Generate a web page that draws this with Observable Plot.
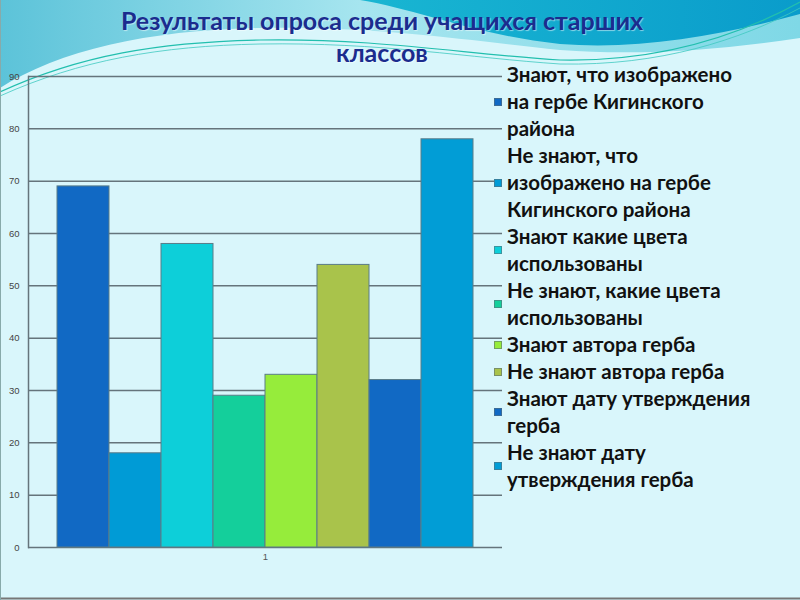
<!DOCTYPE html>
<html>
<head>
<meta charset="utf-8">
<script src="https://cdn.jsdelivr.net/npm/d3@7"></script>
<script src="https://cdn.jsdelivr.net/npm/@observablehq/plot@0.6"></script>
<style>
  html, body { margin: 0; padding: 0; }
  body { width: 800px; height: 600px; position: relative; overflow: hidden; background: #d9f6fb; }
  #bg { position: absolute; left: 0; top: 0; }
  #title { position: absolute; left: 0; top: 4px; width: 764px; text-align: center;
           font-family: Lato, "Open Sans", sans-serif; font-weight: 700; font-size: 25px;
           line-height: 32px; color: #1b2c8e; text-shadow: 1px 1px 1px rgba(255,255,255,0.5); }
  #chart { position: absolute; left: 0; top: 0; }
  #legend { position: absolute; left: 494px; top: 61px; width: 306px;
            font-family: Lato, "Open Sans", sans-serif; font-weight: 700; font-size: 20.5px;
            line-height: 27px; color: #111; }
  .item { display: flex; align-items: center; }
  .sw { width: 6px; height: 6px; border: 1px solid rgba(90,110,120,0.6); margin-right: 5px; flex: none; }
  .lbl { white-space: pre; }
</style>
</head>
<body>
<svg id="bg" width="800" height="600">
  <defs>
    <linearGradient id="g1" x1="0" x2="1" y1="0" y2="0">
      <stop offset="0" stop-color="#5cc3d9"/>
      <stop offset="0.45" stop-color="#a6e5ef"/>
      <stop offset="1" stop-color="#7fd8e6"/>
    </linearGradient>
    <linearGradient id="g2" x1="0" x2="1" y1="0" y2="0">
      <stop offset="0" stop-color="#19b6d2"/>
      <stop offset="1" stop-color="#0a9ccb"/>
    </linearGradient>
  </defs>
  <path d="M0,0 H800 V38 C720,50 640,56 560,50 C480,42 380,26 260,28 C150,30 60,50 0,88 Z" fill="url(#g1)"/>
  <path d="M360,0 C420,10 480,36 560,44 C640,50 720,36 800,14 V0 Z" fill="url(#g2)"/>
  <path d="M0,92 C80,55 160,42 260,40 C380,38 470,55 560,60 C660,62 740,35 800,2" fill="none" stroke="#22bfae" stroke-width="1.2"/>
  <path d="M0,96 C80,60 160,46 260,44 C380,42 470,58 560,64 C660,66 740,40 800,8" fill="none" stroke="#3fc9c0" stroke-width="0.8"/>
  <line x1="0" y1="598.5" x2="800" y2="598.5" stroke="#777" stroke-width="2"/>
  <line x1="0.5" y1="0" x2="0.5" y2="600" stroke="#8aa" stroke-width="1"/>
</svg>
<div id="title">Результаты опроса среди учащихся старших<br>классов</div>
<div id="chart"></div>
<div id="legend"></div>
<script>
const category = "1";
const seriesNames = [
  "Знают, что изображено\nна гербе Кигинского\nрайона",
  "Не знают, что\nизображено на гербе\nКигинского района",
  "Знают какие цвета\nиспользованы",
  "Не знают, какие цвета\nиспользованы",
  "Знают автора герба",
  "Не знают автора герба",
  "Знают дату утверждения\nгерба",
  "Не знают дату\nутверждения герба"
];
const values = [69, 18, 58, 29, 33, 54, 32, 78];
const colors = ["#1169c4", "#009bd6", "#0dcfd9", "#14cf9b", "#96ec3b", "#a9c34b", "#1169c4", "#019dd6"];
const yTicks = [0, 10, 20, 30, 40, 50, 60, 70, 80, 90];

const data = seriesNames.map((s, i) => ({group: category, series: s, value: values[i]}));

const chart = Plot.plot({
  width: 505,
  height: 570,
  marginTop: 76,
  marginBottom: 23,
  marginLeft: 28,
  marginRight: 3,
  style: {background: "transparent", fontFamily: "Liberation Sans, Arial, sans-serif", fontSize: "9.5px", overflow: "visible"},
  fx: {padding: 0, axis: null},
  x: {domain: seriesNames, paddingInner: 0, paddingOuter: 0.514, axis: null},
  y: {domain: [0, 90], axis: null},
  color: {domain: seriesNames, range: colors},
  marks: [
    Plot.gridY(yTicks, {stroke: "#65747b", strokeOpacity: 1, strokeWidth: 1.5}),
    Plot.frame({anchor: "left", stroke: "#65747b", strokeWidth: 1.5}),
    Plot.barY(data, {fx: "group", x: "series", y: "value", fill: "series", stroke: "#5a7c88", strokeWidth: 1}),
    Plot.axisY(yTicks, {tickSize: 0, tickPadding: 9, fill: "#444", label: null}),
    Plot.axisFx({anchor: "bottom", tickSize: 0, tickPadding: 6, label: null, fill: "#555"})
  ]
});
document.getElementById("chart").appendChild(chart);

const legend = document.getElementById("legend");
seriesNames.forEach((s, i) => {
  const item = document.createElement("div");
  item.className = "item";
  const sw = document.createElement("div");
  sw.className = "sw";
  sw.style.background = colors[i];
  const lbl = document.createElement("div");
  lbl.className = "lbl";
  lbl.textContent = s;
  item.appendChild(sw);
  item.appendChild(lbl);
  legend.appendChild(item);
});
</script>
</body>
</html>
